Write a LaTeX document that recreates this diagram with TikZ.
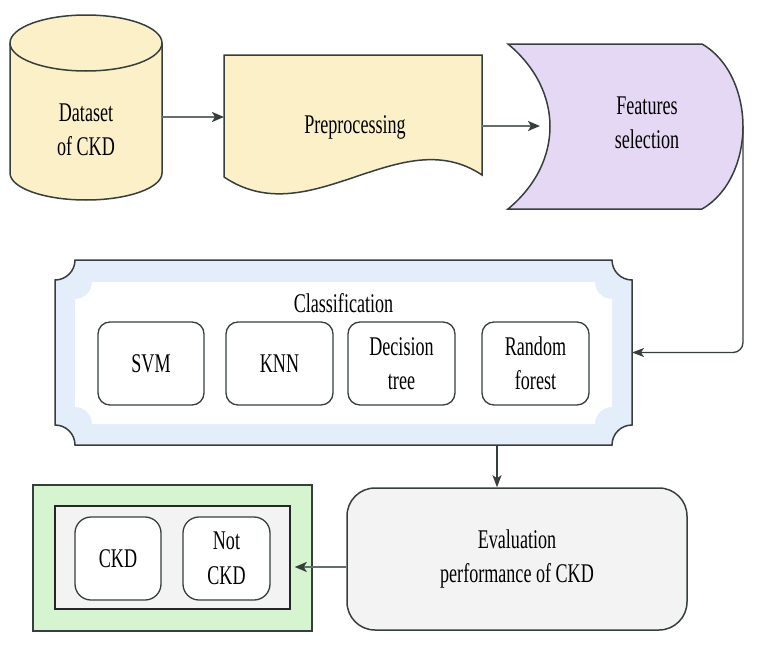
\documentclass[tikz,border=0pt]{standalone}
\usepackage{fontspec}
\setmainfont{Liberation Serif}[FakeStretch=0.67]
\usetikzlibrary{arrows.meta}
\definecolor{ylw}{RGB}{251,240,200}
\definecolor{prp}{RGB}{229,216,245}
\definecolor{blu}{RGB}{228,237,250}
\definecolor{grn}{RGB}{214,244,208}
\definecolor{gry}{RGB}{243,243,243}
\definecolor{edge}{RGB}{55,62,62}
\definecolor{wire}{RGB}{100,110,110}
\begin{document}
\begin{tikzpicture}[x=1pt,y=-1pt,
  font=\fontsize{27pt}{34.5pt}\selectfont,
  shapeline/.style={draw=edge,line width=1.5pt},
  frame/.style={draw=none,inner sep=0pt,outer sep=0pt},
  txt/.style={align=center,inner sep=0pt},
  algbox/.style={draw=edge,line width=1.3pt,rounded corners=12pt,fill=white,
    minimum width=107pt,minimum height=83pt,align=center,inner sep=0pt},
  arr/.style={draw=wire,line width=2.2pt,-{Stealth[length=12pt,width=10pt,inset=3pt,color=edge]}},
  arrthin/.style={draw=edge,line width=1.3pt,-{Stealth[length=12pt,width=9pt,inset=3pt]}}]
\useasboundingbox (0,0) rectangle (758,645);

% ---------- Dataset (cylinder)
\node[frame,minimum width=152pt,minimum height=185pt] (ds) at (86,107.5) {};
\path[shapeline,fill=ylw] (10,43) -- (10,173)
  arc[start angle=180,end angle=360,x radius=76pt,y radius=27pt] -- (162,43)
  arc[start angle=0,end angle=180,x radius=76pt,y radius=28pt] -- cycle;
\draw[shapeline] (10,43) arc[start angle=180,end angle=360,x radius=76pt,y radius=28pt];
\node[txt] (dsT) at (86,130) {Dataset\\of CKD};

% ---------- Preprocessing (document)
\node[frame,minimum width=258pt,minimum height=142pt] (pp) at (353,126) {};
\path[shapeline,fill=ylw] (224,55) -- (482,55) -- (482,175)
  .. controls (400,120) and (310,235) .. (224,177) -- cycle;
\node[txt] (ppT) at (355,127) {Preprocessing};

% ---------- Features selection (stored data)
\node[frame,minimum width=235pt,minimum height=165pt] (fs) at (625.5,126.5) {};
\path[shapeline,fill=prp] (508,44) -- (702,44)
  .. controls (730,60) and (743,95) .. (743,126.5)
  .. controls (743,158) and (730,193) .. (702,209) -- (508,209)
  .. controls (537,185) and (550,155) .. (550,126.5)
  .. controls (550,98) and (537,68) .. (508,44) -- cycle;
\node[txt] (fsT) at (647,123) {Features\\selection};

% ---------- Classification (plaque)
\node[frame,minimum width=577pt,minimum height=185pt] (cl) at (343.5,352.5) {};
\path[shapeline,fill=blu] (75,260) -- (612,260)
  arc[start angle=180,end angle=270,radius=20pt] -- (632,425)
  arc[start angle=90,end angle=180,radius=20pt] -- (75,445)
  arc[start angle=0,end angle=90,radius=20pt] -- (55,280)
  arc[start angle=270,end angle=360,radius=20pt] -- cycle;
\fill[white] (92,282) -- (595,282)
  arc[start angle=180,end angle=270,radius=17pt] -- (612,407)
  arc[start angle=90,end angle=180,radius=17pt] -- (92,424)
  arc[start angle=0,end angle=90,radius=17pt] -- (75,299)
  arc[start angle=270,end angle=360,radius=17pt] -- cycle;
\node[txt] (clT) at (343.5,303) {Classification};
\node[algbox,minimum width=106pt] (svm) at (151,363.5) {SVM};
\node[algbox] (knn) at (279.5,363.5) {KNN};
\node[algbox] (dt) at (401.5,363.5) {Decision\\tree};
\node[algbox] (rf) at (535.5,363.5) {Random\\forest};

% ---------- Evaluation
\node[draw=edge,line width=1.5pt,fill=gry,rounded corners=28pt,
  minimum width=340pt,minimum height=142pt,align=center,inner sep=0pt]
  (ev) at (517,559) {Evaluation\\performance of CKD};

% ---------- Output
\node[draw=edge,fill=grn,line width=1.5pt,minimum width=279pt,minimum height=146pt,inner sep=0pt] (out) at (172.5,558) {};
\node[draw=black!85,fill=gry,line width=1.5pt,minimum width=235pt,minimum height=103pt,inner sep=0pt] (res) at (172.5,557.5) {};
\node[algbox,minimum width=86pt,rounded corners=16pt] (ckd) at (118,558.5) {CKD};
\node[algbox,minimum width=87pt,rounded corners=16pt] (nck) at (226.5,558.5) {Not\\CKD};

% ---------- Connectors
\draw[arr] ([yshift=-9.5pt]ds.east) -- ([yshift=-9.5pt]ds.east -| pp.west);
\draw[arr] (pp.east) -- ([xshift=32pt]pp.east -| fs.west);
\draw[arrthin,rounded corners=10pt] (fs.east) |- (cl.east);
\draw[arrthin] ([xshift=153.5pt]cl.south) -- ([xshift=153.5pt]cl.south |- ev.north);
\draw[arr] ([yshift=-8pt]ev.west) -- ([yshift=-8pt,xshift=4pt]ev.west -| res.east);
\end{tikzpicture}
\end{document}
